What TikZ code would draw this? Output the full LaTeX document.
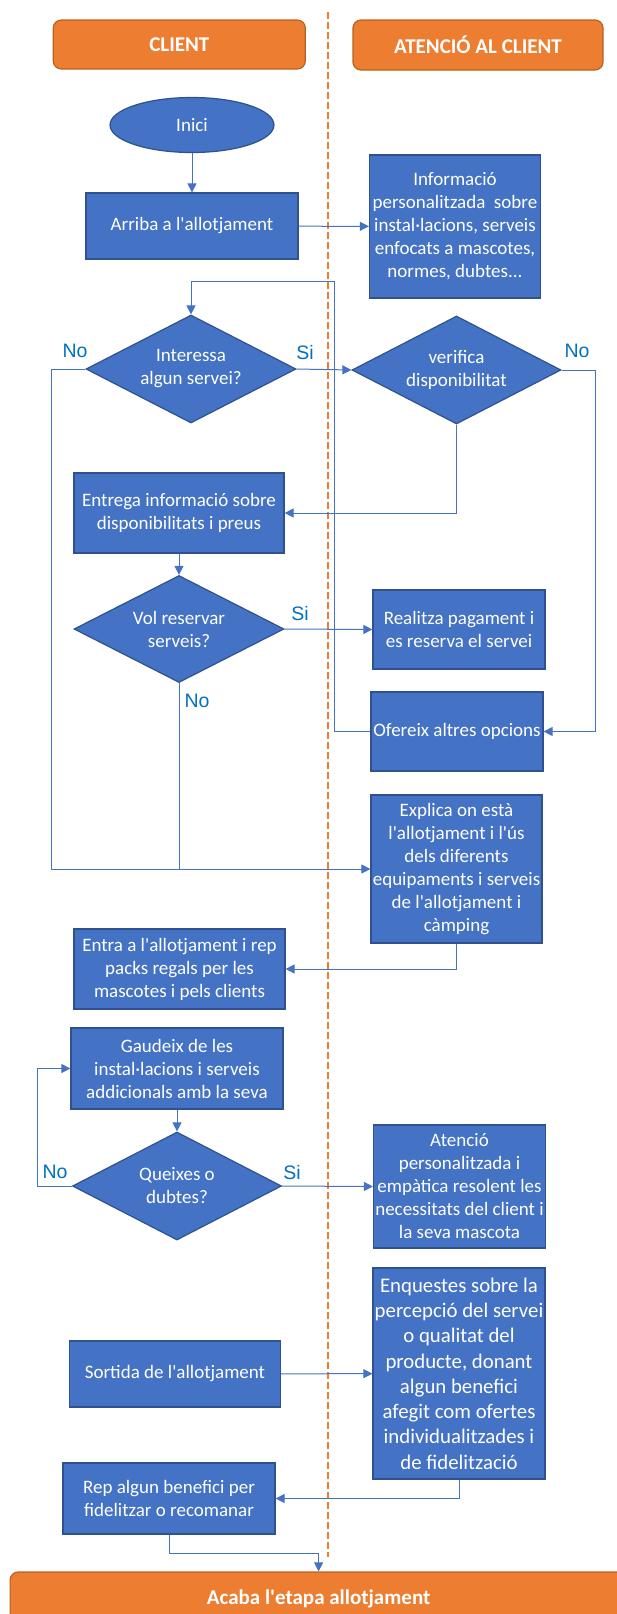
\documentclass[tikz,border=0pt]{standalone}
\usepackage{fontspec}
\setmainfont{Carlito}[Ligatures=TeXOff]
\newfontfamily\lblfont{Liberation Sans}
\usetikzlibrary{arrows.meta,positioning,shapes.geometric}
\definecolor{boxblue}{HTML}{4472C4}
\definecolor{boxedge}{HTML}{2F528F}
\definecolor{laneor}{HTML}{ED7D31}
\definecolor{laneedge}{HTML}{B8621F}
\definecolor{lblblue}{HTML}{0070C0}
\tikzset{
  flowarr/.style={-{Triangle[length=9pt,width=9pt]}, line width=1pt, draw=boxblue},
  flowline/.style={line width=1pt, draw=boxblue},
  flowbox/.style={draw=boxedge, line width=1.2pt, fill=boxblue, text=white, align=center, inner sep=0pt, font=\fontsize{19}{23}\selectfont},
  flowdec/.style={flowbox, diamond, shape aspect=2},
  lanehead/.style={draw=laneedge, line width=1.2pt, fill=laneor, rounded corners=8pt, text=white, font=\fontsize{21}{25}\selectfont\bfseries},
  yesno/.style={text=lblblue, font=\lblfont\fontsize{19.5}{22}\selectfont, inner sep=0pt},
}

\begin{document}
\begin{tikzpicture}[x=1pt, y=-1pt]
  \useasboundingbox (0,0) rectangle (617,1614);
  \clip (0,0) rectangle (617,1614);

  % Lanes
  \node[lanehead, minimum width=252, minimum height=49] (hcli) at (179.3,44.5) {CLIENT};
  \node[lanehead, minimum width=250, minimum height=50] (hate) at (478,45) {ATENCIÓ AL CLIENT};
  \coordinate (divtop) at (328,12);
  \coordinate (divbot) at (328,1557);
  \draw[laneor, line width=1.3pt, dash pattern=on 7pt off 3pt] (divtop) -- (divbot);

  % Client column
  \node[flowbox, ellipse, minimum width=164, minimum height=55] (inici) at (192,125) {Inici};
  \node[flowbox, minimum width=212, minimum height=66] (arriba) at (192,226) {Arriba a l'allotjament};
  \node[flowdec, minimum width=210, minimum height=108] (interessa) at (191,369) {Interessa\\algun servei?};
  \node[flowbox, minimum width=210, minimum height=80] (entrega) at (179,513) {Entrega informació sobre\\disponibilitats i preus};
  \node[flowdec, minimum width=210, minimum height=107] (vol) at (179,629) {Vol reservar\\serveis?};
  \node[flowbox, minimum width=211, minimum height=80] (entra) at (179.5,969) {Entra a l'allotjament i rep\\packs regals per les\\mascotes i pels clients};
  \node[flowbox, minimum width=212, minimum height=81] (gaudeix) at (177,1068.5) {Gaudeix de les\\instal·lacions i serveis\\addicionals amb la seva};
  \node[flowdec, minimum width=209, minimum height=108] (queixes) at (177,1186) {Queixes o\\dubtes?};
  \node[flowbox, minimum width=211, minimum height=66] (sortida) at (175,1374) {Sortida de l'allotjament};
  \node[flowbox, minimum width=212, minimum height=71] (rep) at (169,1498.5) {Rep algun benefici per\\fidelitzar o recomanar};

  % Customer service column
  \node[flowbox, minimum width=171, minimum height=143] (info) at (455,226.5) {Informació\\personalitzada~ sobre\\instal·lacions, serveis\\enfocats a mascotes,\\normes, dubtes...};
  \node[flowdec, minimum width=209, minimum height=108] (verifica) at (456.5,370) {verifica\\disponibilitat};
  \node[flowbox, minimum width=172, minimum height=79] (realitza) at (459,629.5) {Realitza pagament i\\es reserva el servei};
  \node[flowbox, minimum width=172, minimum height=79] (ofereix) at (457,731.5) {Ofereix altres opcions};
  \node[flowbox, minimum width=171, minimum height=148] (explica) at (456.5,869) {Explica on està\\l'allotjament i l'ús\\dels diferents\\equipaments i serveis\\de l'allotjament i\\càmping};
  \node[flowbox, minimum width=172, minimum height=123] (atencio) at (459.5,1186.5) {Atenció\\personalitzada i\\empàtica resolent les\\necessitats del client i\\la seva mascota};
  \node[flowbox, minimum width=172, minimum height=211, font=\fontsize{20.8}{25.3}\selectfont] (enquestes) at (459,1373.5) {Enquestes sobre la\\percepció del servei\\o qualitat del\\producte, donant\\algun benefici\\afegit com ofertes\\individualitzades i\\de fidelització};

  % End bar
  \node[lanehead, minimum width=617, minimum height=54] (acaba) at (318.6,1599) {Acaba l'etapa allotjament};

  % Yes / no labels
  \node[yesno] (no1) at (75,351) {No};
  \node[yesno] (si1) at (305,353) {Si};
  \node[yesno] (no2) at (577,351) {No};
  \node[yesno] (si2) at (300,614) {Si};
  \node[yesno] (no3) at (197,701) {No};
  \node[yesno] (no4) at (55,1172) {No};
  \node[yesno] (si3) at (292,1173) {Si};

  % Connectors
  \coordinate (loop) at (334,281);
  \draw[flowarr] (inici) -- (arriba);
  \draw[flowarr] (arriba) -- (info);
  \draw[flowarr] (interessa.east) -- (verifica.west);
  \draw[flowarr] (interessa.west) -- ++(-34,0) |- (explica.west);
  \draw[flowarr] (verifica.south) |- (entrega.east);
  \draw[flowarr] (verifica.east) -- ++(34,0) |- (ofereix.east);
  \draw[flowarr] (ofereix.west) -| (loop) -| (interessa.north);
  \draw[flowarr] (entrega) -- (vol);
  \draw[flowarr] (vol.east) -- (realitza.west);
  \draw[flowline] (vol.south) -- (vol.south |- explica.west);
  \draw[flowarr] (explica.south) |- (entra.east);
  \draw[flowarr] (gaudeix) -- (queixes);
  \draw[flowarr] (queixes.west) -- ++(-34.5,0) |- (gaudeix.west);
  \draw[flowarr] (queixes.east) -- (atencio.west);
  \draw[flowarr] (sortida) -- (enquestes);
  \draw[flowarr] (enquestes.south) |- (rep.east);
  \draw[flowarr] (rep.south) -- ++(0,19) -| (acaba.north);
\end{tikzpicture}
\end{document}
